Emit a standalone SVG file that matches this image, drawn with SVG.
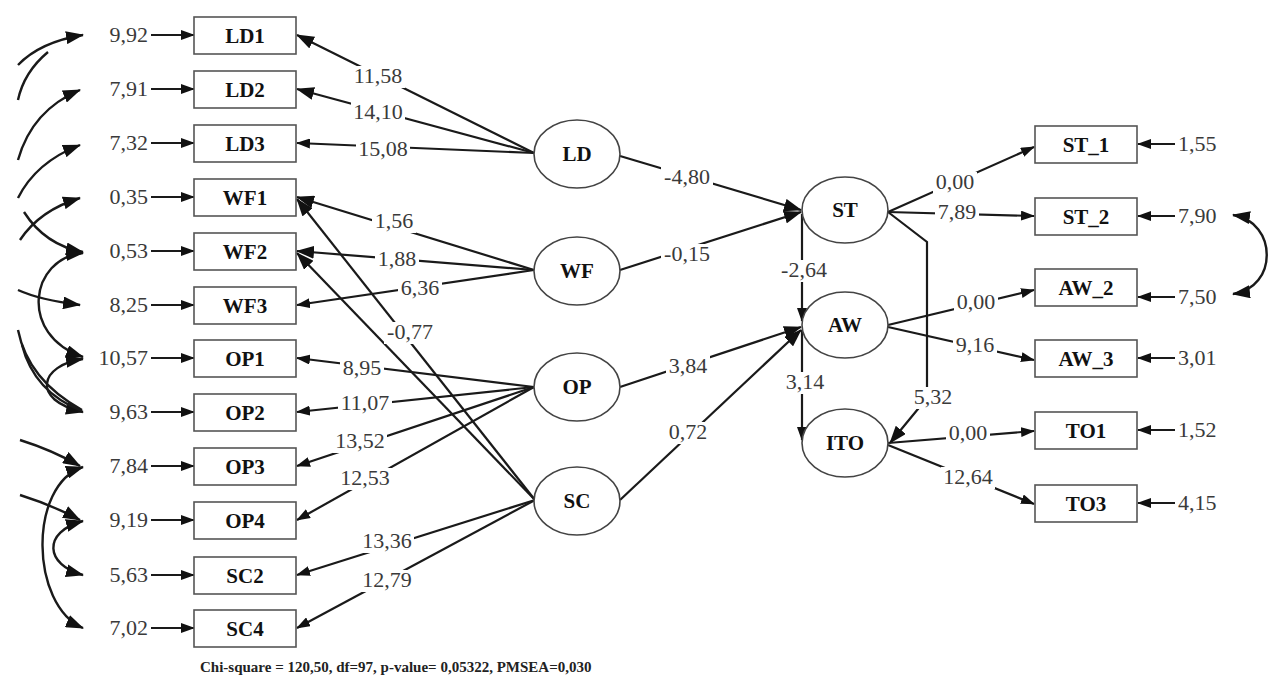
<svg xmlns="http://www.w3.org/2000/svg" width="1268" height="681" viewBox="0 0 1268 681">
<style>
.box{fill:#fff;stroke:#555;stroke-width:1.6}
.ell{fill:#fff;stroke:#444;stroke-width:1.6}
.nm{font-weight:bold;font-size:21px;fill:#111;text-anchor:middle}
.num{font-size:22px;fill:#3a3a3a}
.lbl{font-size:22px;fill:#3a3a3a;text-anchor:middle}
.bg{fill:#fff;stroke:none}
.c{fill:none;stroke:#1a1a1a;stroke-width:2.2}
.cv{fill:none;stroke:#1a1a1a;stroke-width:2.4}
</style>
<defs>
<marker id="ah" viewBox="0 0 14 10" refX="13" refY="5" markerWidth="14" markerHeight="10" markerUnits="userSpaceOnUse" orient="auto-start-reverse"><path d="M0,0 L14,5 L0,10 z" fill="#111"/></marker>
<marker id="ab" viewBox="0 0 18 13" refX="17" refY="6.5" markerWidth="18" markerHeight="13" markerUnits="userSpaceOnUse" orient="auto-start-reverse"><path d="M0,0 L18,6.5 L0,13 z" fill="#111"/></marker>
</defs>
<rect width="1268" height="681" fill="#fff"/>

<g id="connectors" font-family="Liberation Serif, Times New Roman, serif">
<path class="cv" d="M18,65 Q40,42 83,35" marker-end="url(#ab)"/>
<path class="cv" d="M18,100 Q24,72 48,52"/>
<path class="cv" d="M18,160 Q32,110 80,90" marker-end="url(#ab)"/>
<path class="cv" d="M18,198 Q36,162 80,145" marker-end="url(#ab)"/>
<path class="cv" d="M20,240 Q40,210 80,198" marker-end="url(#ab)"/>
<path class="cv" d="M24,212 Q45,245 83,252" marker-end="url(#ab)"/>
<path class="cv" d="M83,253 C30,258 18,335 83,357" marker-start="url(#ab)" marker-end="url(#ab)"/>
<path class="cv" d="M18,290 Q40,300 80,305" marker-end="url(#ab)"/>
<path class="cv" d="M83,359 C40,365 30,400 83,412" marker-start="url(#ab)" marker-end="url(#ab)"/>
<path class="cv" d="M18,330 Q28,380 82,410"/>
<path class="cv" d="M22,345 Q34,392 82,411"/>
<path class="cv" d="M20,440 Q52,450 80,466" marker-end="url(#ab)"/>
<path class="cv" d="M20,495 Q52,505 80,520" marker-end="url(#ab)"/>
<path class="cv" d="M83,467 C28,485 30,605 83,628" marker-start="url(#ab)" marker-end="url(#ab)"/>
<path class="cv" d="M83,521 C42,532 45,565 83,575" marker-start="url(#ab)" marker-end="url(#ab)"/>

<line class="c" x1="151" y1="35" x2="194" y2="35" marker-end="url(#ah)"/>
<line class="c" x1="151" y1="89" x2="194" y2="89" marker-end="url(#ah)"/>
<line class="c" x1="151" y1="143" x2="194" y2="143" marker-end="url(#ah)"/>
<line class="c" x1="151" y1="197" x2="194" y2="197" marker-end="url(#ah)"/>
<line class="c" x1="151" y1="251" x2="194" y2="251" marker-end="url(#ah)"/>
<line class="c" x1="151" y1="305" x2="194" y2="305" marker-end="url(#ah)"/>
<line class="c" x1="151" y1="358" x2="194" y2="358" marker-end="url(#ah)"/>
<line class="c" x1="151" y1="412" x2="194" y2="412" marker-end="url(#ah)"/>
<line class="c" x1="151" y1="466" x2="194" y2="466" marker-end="url(#ah)"/>
<line class="c" x1="151" y1="520" x2="194" y2="520" marker-end="url(#ah)"/>
<line class="c" x1="151" y1="575" x2="194" y2="575" marker-end="url(#ah)"/>
<line class="c" x1="151" y1="628" x2="194" y2="628" marker-end="url(#ah)"/>

<line class="c" x1="534" y1="153" x2="297" y2="35" marker-end="url(#ab)"/>
<line class="c" x1="534" y1="153" x2="297" y2="89" marker-end="url(#ab)"/>
<line class="c" x1="534" y1="153" x2="297" y2="143" marker-end="url(#ah)"/>
<line class="c" x1="534" y1="270" x2="297" y2="197" marker-end="url(#ab)"/>
<line class="c" x1="534" y1="270" x2="297" y2="251" marker-end="url(#ab)"/>
<line class="c" x1="534" y1="270" x2="297" y2="305" marker-end="url(#ah)"/>
<line class="c" x1="534" y1="387" x2="297" y2="358" marker-end="url(#ah)"/>
<line class="c" x1="534" y1="387" x2="297" y2="412" marker-end="url(#ah)"/>
<line class="c" x1="534" y1="387" x2="297" y2="466" marker-end="url(#ah)"/>
<line class="c" x1="534" y1="387" x2="297" y2="520" marker-end="url(#ah)"/>
<line class="c" x1="535" y1="500" x2="297" y2="575" marker-end="url(#ah)"/>
<line class="c" x1="535" y1="500" x2="297" y2="628" marker-end="url(#ah)"/>
<line class="c" x1="535" y1="500" x2="297" y2="199" marker-end="url(#ab)"/>
<line class="c" x1="535" y1="500" x2="297" y2="253" marker-end="url(#ab)"/>

<line class="c" x1="620" y1="156" x2="801" y2="210" marker-end="url(#ab)"/>
<line class="c" x1="620" y1="270" x2="801" y2="212" marker-end="url(#ab)"/>
<line class="c" x1="620" y1="387" x2="801" y2="327" marker-end="url(#ab)"/>
<line class="c" x1="620" y1="500" x2="801" y2="330" marker-end="url(#ab)"/>
<line class="c" x1="802" y1="214" x2="802" y2="321" marker-end="url(#ah)"/>
<line class="c" x1="802" y1="330" x2="802" y2="440" marker-end="url(#ah)"/>
<polyline class="c" points="888,212 927,242 927,398 890,443" marker-end="url(#ab)"/>

<line class="c" x1="888" y1="212" x2="1034" y2="147" marker-end="url(#ah)"/>
<line class="c" x1="888" y1="212" x2="1034" y2="216" marker-end="url(#ah)"/>
<line class="c" x1="888" y1="325" x2="1034" y2="290" marker-end="url(#ah)"/>
<line class="c" x1="888" y1="327" x2="1034" y2="360" marker-end="url(#ah)"/>
<line class="c" x1="888" y1="443" x2="1034" y2="431" marker-end="url(#ah)"/>
<line class="c" x1="888" y1="445" x2="1034" y2="504" marker-end="url(#ah)"/>

<line class="c" x1="1175" y1="144" x2="1138" y2="144" marker-end="url(#ah)"/>
<line class="c" x1="1175" y1="216" x2="1138" y2="216" marker-end="url(#ah)"/>
<line class="c" x1="1175" y1="297" x2="1138" y2="297" marker-end="url(#ah)"/>
<line class="c" x1="1175" y1="358" x2="1138" y2="358" marker-end="url(#ah)"/>
<line class="c" x1="1175" y1="430" x2="1138" y2="430" marker-end="url(#ah)"/>
<line class="c" x1="1175" y1="503" x2="1138" y2="503" marker-end="url(#ah)"/>
<path class="cv" d="M1233,215 C1278,222 1278,288 1233,294" marker-start="url(#ab)" marker-end="url(#ab)"/>

<rect class="bg" x="351" y="66" width="54" height="22"/>
<rect class="bg" x="351" y="102" width="54" height="22"/>
<rect class="bg" x="356" y="139" width="54" height="22"/>
<rect class="bg" x="372" y="211" width="44" height="22"/>
<rect class="bg" x="375" y="249" width="44" height="22"/>
<rect class="bg" x="398" y="278" width="44" height="22"/>
<rect class="bg" x="384" y="322" width="52" height="22"/>
<rect class="bg" x="340" y="358" width="44" height="22"/>
<rect class="bg" x="338" y="393" width="54" height="22"/>
<rect class="bg" x="333" y="431" width="54" height="22"/>
<rect class="bg" x="338" y="468" width="54" height="22"/>
<rect class="bg" x="360" y="531" width="54" height="22"/>
<rect class="bg" x="360" y="570" width="54" height="22"/>
<rect class="bg" x="661" y="167" width="52" height="22"/>
<rect class="bg" x="661" y="244" width="52" height="22"/>
<rect class="bg" x="666" y="356" width="44" height="22"/>
<rect class="bg" x="666" y="422" width="44" height="22"/>
<rect class="bg" x="778" y="260" width="52" height="22"/>
<rect class="bg" x="783" y="372" width="44" height="22"/>
<rect class="bg" x="911" y="387" width="44" height="22"/>
<rect class="bg" x="933" y="172" width="44" height="22"/>
<rect class="bg" x="935" y="202" width="44" height="22"/>
<rect class="bg" x="954" y="292" width="44" height="22"/>
<rect class="bg" x="953" y="335" width="44" height="22"/>
<rect class="bg" x="946" y="423" width="44" height="22"/>
<rect class="bg" x="941" y="467" width="54" height="22"/>

<text class="lbl" x="378" y="83">11,58</text>
<text class="lbl" x="378" y="119">14,10</text>
<text class="lbl" x="383" y="156">15,08</text>
<text class="lbl" x="394" y="228">1,56</text>
<text class="lbl" x="397" y="266">1,88</text>
<text class="lbl" x="420" y="295">6,36</text>
<text class="lbl" x="410" y="339">-0,77</text>
<text class="lbl" x="362" y="375">8,95</text>
<text class="lbl" x="365" y="410">11,07</text>
<text class="lbl" x="360" y="448">13,52</text>
<text class="lbl" x="365" y="485">12,53</text>
<text class="lbl" x="387" y="548">13,36</text>
<text class="lbl" x="387" y="587">12,79</text>
<text class="lbl" x="687" y="184">-4,80</text>
<text class="lbl" x="687" y="261">-0,15</text>
<text class="lbl" x="688" y="373">3,84</text>
<text class="lbl" x="688" y="439">0,72</text>
<text class="lbl" x="804" y="277">-2,64</text>
<text class="lbl" x="805" y="389">3,14</text>
<text class="lbl" x="933" y="404">5,32</text>
<text class="lbl" x="955" y="189">0,00</text>
<text class="lbl" x="957" y="219">7,89</text>
<text class="lbl" x="976" y="309">0,00</text>
<text class="lbl" x="975" y="352">9,16</text>
<text class="lbl" x="968" y="440">0,00</text>
<text class="lbl" x="968" y="484">12,64</text>
</g>

<g id="errors-left" class="num" text-anchor="end" font-family="Liberation Serif, Times New Roman, serif">
<text x="148" y="42">9,92</text>
<text x="148" y="96">7,91</text>
<text x="148" y="150">7,32</text>
<text x="148" y="204">0,35</text>
<text x="148" y="258">0,53</text>
<text x="148" y="312">8,25</text>
<text x="148" y="365">10,57</text>
<text x="148" y="419">9,63</text>
<text x="148" y="473">7,84</text>
<text x="148" y="527">9,19</text>
<text x="148" y="582">5,63</text>
<text x="148" y="635">7,02</text>
</g>
<g id="errors-right" class="num" font-family="Liberation Serif, Times New Roman, serif">
<text x="1178" y="151">1,55</text>
<text x="1178" y="223">7,90</text>
<text x="1178" y="304">7,50</text>
<text x="1178" y="365">3,01</text>
<text x="1178" y="437">1,52</text>
<text x="1178" y="510">4,15</text>
</g>

<g font-family="Liberation Serif, Times New Roman, serif">
<g id="LD1"><rect class="box" x="194" y="17" width="102" height="37"/><text class="nm" x="245" y="43">LD1</text></g>
<g id="LD2"><rect class="box" x="194" y="71" width="102" height="37"/><text class="nm" x="245" y="97">LD2</text></g>
<g id="LD3"><rect class="box" x="194" y="125" width="102" height="37"/><text class="nm" x="245" y="151">LD3</text></g>
<g id="WF1"><rect class="box" x="194" y="179" width="102" height="37"/><text class="nm" x="245" y="205">WF1</text></g>
<g id="WF2"><rect class="box" x="194" y="233" width="102" height="37"/><text class="nm" x="245" y="259">WF2</text></g>
<g id="WF3"><rect class="box" x="194" y="287" width="102" height="37"/><text class="nm" x="245" y="313">WF3</text></g>
<g id="OP1"><rect class="box" x="194" y="340" width="102" height="37"/><text class="nm" x="245" y="366">OP1</text></g>
<g id="OP2"><rect class="box" x="194" y="394" width="102" height="37"/><text class="nm" x="245" y="420">OP2</text></g>
<g id="OP3"><rect class="box" x="194" y="448" width="102" height="37"/><text class="nm" x="245" y="474">OP3</text></g>
<g id="OP4"><rect class="box" x="194" y="502" width="102" height="37"/><text class="nm" x="245" y="528">OP4</text></g>
<g id="SC2"><rect class="box" x="194" y="557" width="102" height="37"/><text class="nm" x="245" y="583">SC2</text></g>
<g id="SC4"><rect class="box" x="194" y="610" width="102" height="37"/><text class="nm" x="245" y="636">SC4</text></g>

<g id="LD"><ellipse class="ell" cx="577" cy="154" rx="43" ry="34"/><text class="nm" x="577" y="161">LD</text></g>
<g id="WF"><ellipse class="ell" cx="577" cy="271" rx="43" ry="34"/><text class="nm" x="577" y="278">WF</text></g>
<g id="OP"><ellipse class="ell" cx="577" cy="387" rx="43" ry="34"/><text class="nm" x="577" y="394">OP</text></g>
<g id="SC"><ellipse class="ell" cx="577" cy="501" rx="43" ry="34"/><text class="nm" x="577" y="508">SC</text></g>
<g id="ST"><ellipse class="ell" cx="845" cy="210" rx="43" ry="33"/><text class="nm" x="845" y="217">ST</text></g>
<g id="AW"><ellipse class="ell" cx="845" cy="325" rx="43" ry="33"/><text class="nm" x="845" y="332">AW</text></g>
<g id="ITO"><ellipse class="ell" cx="845" cy="443" rx="43" ry="34"/><text class="nm" x="845" y="450">ITO</text></g>

<g id="ST_1"><rect class="box" x="1035" y="126" width="102" height="37"/><text class="nm" x="1086" y="152">ST_1</text></g>
<g id="ST_2"><rect class="box" x="1035" y="198" width="102" height="37"/><text class="nm" x="1086" y="224">ST_2</text></g>
<g id="AW_2"><rect class="box" x="1035" y="269" width="102" height="37"/><text class="nm" x="1086" y="295">AW_2</text></g>
<g id="AW_3"><rect class="box" x="1035" y="340" width="102" height="37"/><text class="nm" x="1086" y="366">AW_3</text></g>
<g id="TO1"><rect class="box" x="1035" y="412" width="102" height="37"/><text class="nm" x="1086" y="438">TO1</text></g>
<g id="TO3"><rect class="box" x="1035" y="485" width="102" height="37"/><text class="nm" x="1086" y="511">TO3</text></g>

<text x="200" y="672" font-weight="bold" font-size="15" fill="#222">Chi-square = 120,50, df=97, p-value= 0,05322, PMSEA=0,030</text>
</g>
</svg>
